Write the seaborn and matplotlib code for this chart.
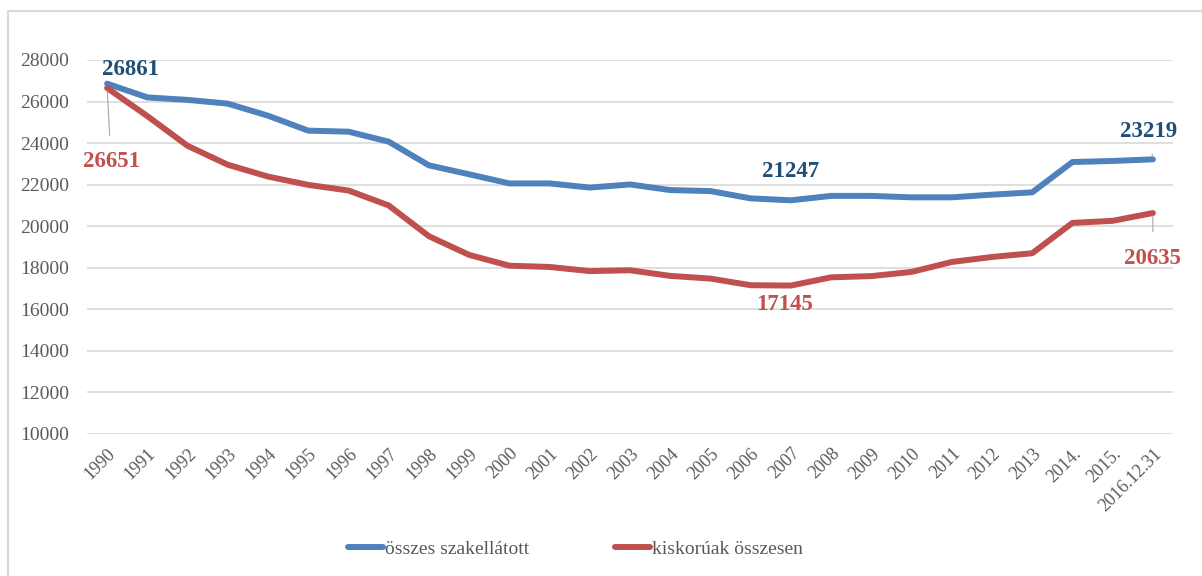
import matplotlib

matplotlib.use("Agg")

import matplotlib.pyplot as plt
import numpy as np
import pandas as pd
import seaborn as sns
from matplotlib.lines import Line2D

years = ["1990", "1991", "1992", "1993", "1994", "1995", "1996", "1997", "1998",
         "1999", "2000", "2001", "2002", "2003", "2004", "2005", "2006", "2007",
         "2008", "2009", "2010", "2011", "2012", "2013", "2014.", "2015.", "2016.12.31"]
osszes = [26861, 26200, 26080, 25900, 25320, 24600, 24550, 24070, 22930,
          22500, 22060, 22060, 21860, 22010, 21740, 21690, 21340, 21247,
          21460, 21460, 21390, 21390, 21520, 21630, 23090, 23140, 23219]
kiskoru = [26651, 25300, 23870, 22960, 22390, 21990, 21720, 21000, 19520,
           18620, 18100, 18040, 17840, 17880, 17610, 17480, 17160, 17145,
           17540, 17600, 17800, 18280, 18520, 18700, 20160, 20260, 20635]
series_names = ["összes szakellátott", "kiskorúak összesen"]
yticks = list(range(10000, 28001, 2000))

BLUE = "#4F81BD"
RED = "#C0504D"
DARKBLUE = "#1F4E79"
GREY = "#595959"

df = pd.DataFrame({"idx": np.arange(len(years)),
                   series_names[0]: osszes,
                   series_names[1]: kiskoru})
long = df.melt(id_vars="idx", var_name="sorozat", value_name="ertek")

sns.set_style("white")
plt.rcParams["font.family"] = ["Liberation Serif", "DejaVu Serif"]

fig = plt.figure(figsize=(12.02, 5.76), dpi=100)
ax = fig.add_axes([87 / 1202, 1 - 434 / 576, (1173 - 87) / 1202, (434 - 60) / 576])

sns.lineplot(data=long, x="idx", y="ertek", hue="sorozat",
             palette=[BLUE, RED], linewidth=4.3, ax=ax, legend=False,
             solid_capstyle="round", solid_joinstyle="round", zorder=3)

ax.set_xlim(-0.5, len(years) - 0.5)
ax.set_ylim(10000, 28000)
ax.set_yticks(yticks)
ax.set_yticklabels([str(v) for v in yticks], fontsize=14, color=GREY)
ax.set_xticks(np.arange(len(years)))
ax.set_xticklabels(years, rotation=45, ha="right", rotation_mode="anchor",
                   fontsize=13, color=GREY)
ax.tick_params(axis="y", length=0, pad=13)
ax.tick_params(axis="x", length=0, pad=8)
ax.grid(axis="y", color="#D9D9D9", linewidth=1.2)
ax.set_axisbelow(True)
for s in ax.spines.values():
    s.set_visible(False)
ax.set_xlabel("")
ax.set_ylabel("")


def leader(gap):
    return dict(arrowstyle="-", color="#A6A6A6", lw=0.8, shrinkA=gap, shrinkB=2)


# data labels
n = len(years) - 1
lab = dict(fontsize=16.5, fontweight="bold", zorder=5)
ax.text(0.57, 27520, str(osszes[0]), color=DARKBLUE, ha="center", va="center", **lab)
ax.annotate(str(kiskoru[0]), xy=(0, kiskoru[0]), xytext=(0.1, 23100),
            color=RED, ha="center", va="center", arrowprops=leader(9), **lab)
ax.text(17, 22610, str(osszes[17]), color=DARKBLUE, ha="center", va="center", **lab)
ax.text(16.85, 16210, str(kiskoru[17]), color=RED, ha="center", va="center", **lab)
ax.annotate(str(osszes[n]), xy=(n, osszes[n]), xytext=(25.9, 24535),
            color=DARKBLUE, ha="center", va="center", arrowprops=leader(6), **lab)
ax.annotate(str(kiskoru[n]), xy=(n, kiskoru[n]), xytext=(26, 18470),
            color=RED, ha="center", va="center", arrowprops=leader(9), **lab)

handles = [Line2D([], [], color=BLUE, lw=4.3, solid_capstyle="round"),
           Line2D([], [], color=RED, lw=4.3, solid_capstyle="round")]
fig.legend(handles, series_names, loc="center", bbox_to_anchor=(0.479, 1 - 549 / 576),
           ncol=2, frameon=False, fontsize=14, handlelength=1.8, handletextpad=0.1,
           columnspacing=4.4, labelcolor=GREY)

# outer frame (top and left edges visible)
fig.add_artist(Line2D([8 / 1202, 8 / 1202], [0, 1 - 11 / 576], color="#D9D9D9", lw=1.5))
fig.add_artist(Line2D([8 / 1202, 1], [1 - 11 / 576, 1 - 11 / 576], color="#D9D9D9", lw=1.5))

fig.savefig("out.png", dpi=100)
